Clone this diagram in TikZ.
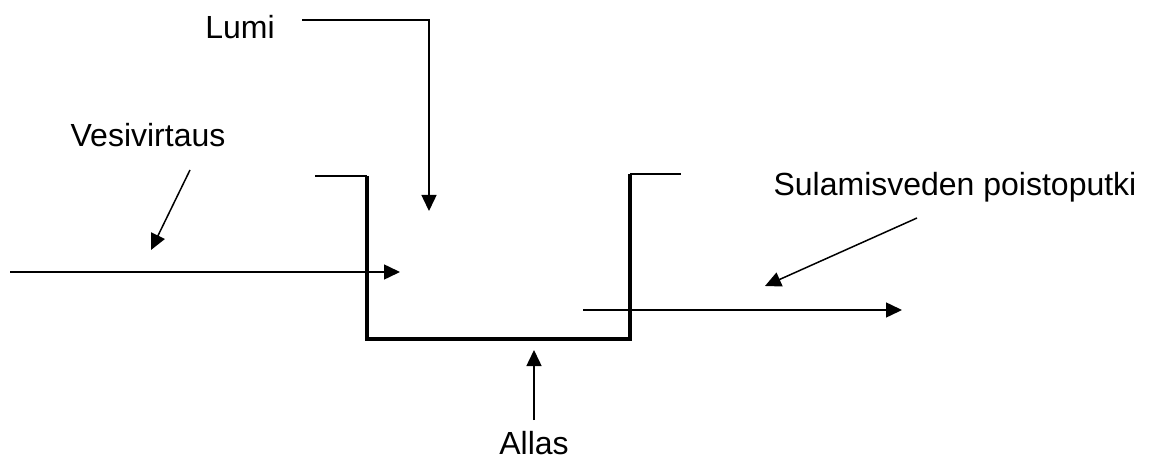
\documentclass[tikz,border=0pt]{standalone}
\usepackage{fontspec}
\setmainfont{Liberation Sans}
\usetikzlibrary{arrows.meta, positioning}

\begin{document}
\begin{tikzpicture}[
    x=0.5pt, y=-0.5pt,
    txt/.style={font=\fontsize{16}{19}\selectfont, inner sep=0pt},
    arrow/.style={-{Triangle[length=8pt, width=7.5pt]}, line width=0.75pt},
    wall/.style={line width=1.6pt},
    lip/.style={line width=0.75pt}
]
\useasboundingbox (0,0) rectangle (1152,465);

% Labels
\node[txt] (lumi) at (240,27) {Lumi};
\node[txt] (vesi) at (148,135) {Vesivirtaus};
\node[txt] (sulamis) at (955,187) {Sulamisveden poistoputki};
\node[txt] (allas) at (534,443) {Allas};

% Pool
\draw[lip] (315,176) -- (367,176);
\draw[wall] (367,176) -- (367,339) -- (630,339) -- (630,174);
\draw[lip] (630,174) -- (681,174);

% Arrow ends
\coordinate (lumi_start) at (302,20);
\coordinate (lumi_end) at (429,211);
\coordinate (vesi_start) at (190,170);
\coordinate (vesi_end) at (151,250);
\coordinate (in_start) at (10,272);
\coordinate (in_end) at (400,272);
\coordinate (out_start) at (583,310);
\coordinate (out_end) at (902,310);
\coordinate (sul_start) at (917,218);
\coordinate (sul_end) at (765,286);
\coordinate (allas_end) at (534,350);

% Arrows
\draw[arrow] (lumi_start) -| (lumi_end);
\draw[arrow] (vesi_start) -- (vesi_end);
\draw[arrow] (in_start) -- (in_end);
\draw[arrow] (out_start) -- (out_end);
\draw[arrow] (sul_start) -- (sul_end);
\draw[arrow] (allas.north |- 0,420) -- (allas_end);

\end{tikzpicture}
\end{document}
